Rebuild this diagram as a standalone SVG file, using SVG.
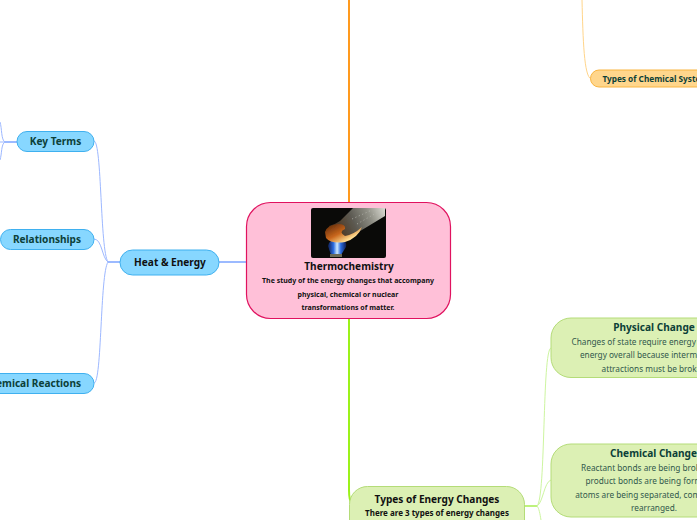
<svg xmlns="http://www.w3.org/2000/svg" width="697" height="520" viewBox="0 0 697 520">
<style>
text{font-family:"Noto Sans","DejaVu Sans",sans-serif;text-anchor:middle}
.c{fill:none}
.blue{fill:#87d7ff;stroke:#3fb0ef;stroke-width:1}
.green{fill:#dcf0b4;stroke:#b4dc78;stroke-width:1}
.t{font-size:10.1px;font-weight:700;fill:#0c4038}
.h{font-size:10.1px;font-weight:700;fill:#111}
.b{font-size:8.25px;fill:#31584c}
.s{font-size:7px;font-weight:700;fill:#111}
</style>
<defs>
<linearGradient id="tube" gradientUnits="userSpaceOnUse" x1="335" y1="234" x2="385" y2="210"><stop offset="0" stop-color="#4a3018"/><stop offset=".4" stop-color="#5c5a52"/><stop offset=".7" stop-color="#8e8e84"/><stop offset="1" stop-color="#d8d8d0"/></linearGradient>
<linearGradient id="fl" x1="0" y1="0" x2="1" y2="0"><stop offset="0" stop-color="#0e1c50"/><stop offset=".3" stop-color="#2c6ce0"/><stop offset=".5" stop-color="#cfeaff"/><stop offset=".7" stop-color="#2c6ce0"/><stop offset="1" stop-color="#0e1c50"/></linearGradient>
<linearGradient id="gl" gradientUnits="userSpaceOnUse" x1="330" y1="225" x2="340" y2="244"><stop offset="0" stop-color="#6a300c"/><stop offset=".55" stop-color="#c8661c"/><stop offset="1" stop-color="#ffdc90"/></linearGradient>
<filter id="soft" x="-20%" y="-20%" width="140%" height="140%"><feGaussianBlur stdDeviation="0.600"/></filter>
</defs>
<g id="connectors" class="c">
<path d="M349 0V202" stroke="#ff9a1e" stroke-width="2"/>
<path d="M349 318V490Q349 500 352 505" stroke="#9cf21a" stroke-width="2"/>
<path d="M246 262H219" stroke="#5a8cff" stroke-width="1.200"/>
<path d="M120 262H108" stroke="#5a8cff" stroke-width="1.200"/>
<path d="M108 262C100 250 102 142 94 141" stroke="#9db8ff"/>
<path d="M108 262C102 258 102 239 94 239" stroke="#9db8ff"/>
<path d="M108 262C100 274 102 383 94 383" stroke="#9db8ff"/>
<path d="M17 142H5" stroke="#5a8cff" stroke-width="1.200"/>
<path d="M5 142C1 140 2 128 0 122" stroke="#9db8ff"/>
<path d="M5 142C1 144 2 154 0 160" stroke="#9db8ff"/>
<path d="M5 142H0" stroke="#9db8ff"/>
<path d="M582 0C583 40 584 76 591 79" stroke="#ffd58a"/>
<path d="M525 506H537" stroke="#a8ee50" stroke-width="1.500"/>
<path d="M537 506C546 498 542 350 551 348" stroke="#cdf5a0"/>
<path d="M537 506C543 503 544 482 551 480" stroke="#cdf5a0"/>
<path d="M537 506C539 508 540 514 541 520" stroke="#cdf5a0"/>
</g>
<g id="root">
<rect x="246.500" y="202.500" width="204" height="116" rx="24" fill="#ffc0d8" stroke="#e0125f" stroke-width="1.200"/>
<rect x="311" y="208" width="75" height="50" rx="2" fill="#0a0a08"/>
<g filter="url(#soft)">
<path d="M331 255L328 246Q329 242 332 240L344 240Q347 243 346 247L341 255Z" fill="url(#fl)"/>
<path d="M329 226Q336 224 340 221L353 208H385V216L352 236Q342 240 334 236Z" fill="url(#tube)"/>
<path d="M352 219L372 210M357 224L378 212" fill="none" stroke="#b8b8b0" stroke-width="0.700" stroke-dasharray="1.200 2.500"/>
<path d="M325 232Q327 225 338 224Q346 224 345 229Q338 232 345 236Q353 235 362 227Q358 238 345 242Q331 244 326 238Z" fill="url(#gl)"/>
</g>
<rect x="330" y="254" width="12" height="3" fill="#6a6a58"/>
<text class="h" x="349" y="270">Thermochemistry</text>
<text class="s" x="348" y="283">The study of the energy changes that accompany</text>
<text class="s" x="348" y="297">physical, chemical or nuclear</text>
<text class="s" x="348" y="310">transformations of matter.</text>
</g>
<g id="heat"><rect class="blue" x="120" y="250" width="99" height="25" rx="12.500"/><text class="h" x="170" y="266">Heat &amp; Energy</text></g>
<g id="key-terms"><rect class="blue" x="17" y="131.500" width="77" height="20" rx="10"/><text class="t" x="55.500" y="145">Key Terms</text></g>
<g id="relationships"><rect class="blue" x="0.500" y="229.500" width="93.500" height="20" rx="10"/><text class="t" x="47" y="243">Relationships</text></g>
<g id="chemical-reactions"><rect class="blue" x="-30" y="373.500" width="124" height="20" rx="10"/><text class="t" x="32" y="387">Chemical Reactions</text></g>
<g id="systems"><rect x="590.500" y="70" width="150" height="17" rx="8.500" fill="#ffd68c" stroke="#f8b440"/><text x="657.500" y="82" font-size="8.250" font-weight="700" fill="#0c4038">Types of Chemical Systems</text></g>
<g id="types"><rect class="green" x="349.500" y="486.500" width="175" height="60" rx="18"/><text class="h" x="437" y="503">Types of Energy Changes</text><text x="437" y="516" font-size="8" font-weight="700" fill="#111">There are 3 types of energy changes</text></g>
<g id="physical"><rect class="green" x="551" y="318" width="200" height="59.500" rx="20"/><text class="t" x="654" y="331">Physical Change</text><text class="b" x="654" y="345">Changes of state require energy or release</text><text class="b" x="654" y="358">energy overall because intermolecular</text><text class="b" x="654" y="372">attractions must be broken</text></g>
<g id="chemical"><rect class="green" x="551" y="444" width="200" height="73" rx="20"/><text class="t" x="653.500" y="457">Chemical Change</text><text class="b" x="654" y="471">Reactant bonds are being broken and</text><text class="b" x="654" y="484">product bonds are being formed as</text><text class="b" x="654" y="498">atoms are being separated, combined or</text><text class="b" x="654" y="511">rearranged.</text></g>
</svg>
